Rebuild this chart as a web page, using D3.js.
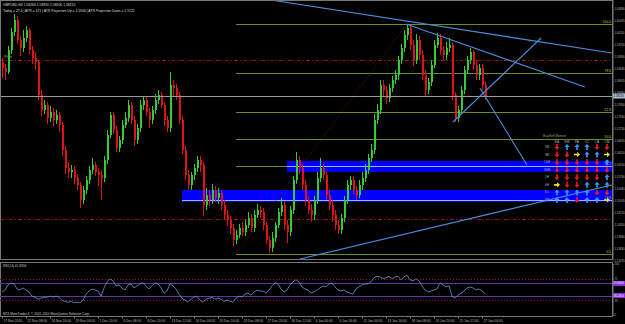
<!DOCTYPE html>
<html>
<head>
<meta charset="utf-8">
<script src="https://cdn.jsdelivr.net/npm/d3@7"></script>
<style>
  body { margin: 0; background: #000; }
  svg { display: block; }
  text { font-family: "Liberation Sans", Arial, sans-serif; }
</style>
</head>
<body>
<div id="chart"></div>
<script>
// GBPUSD H4 bars (open = previous close)
const firstOpen = 1.5923;
const closes = [
  1.5905,1.5893,1.5959,1.6013,1.6049,1.5989,1.5965,1.5995,1.6019,1.5959,
  1.5935,1.5923,1.5824,1.5779,1.5794,1.5755,1.5773,1.5749,1.5764,1.5734,
  1.5659,1.5605,1.5593,1.5599,1.5575,1.5554,1.5509,1.5539,1.5569,1.5599,
  1.5614,1.5593,1.5584,1.5575,1.5629,1.5704,1.5764,1.5719,1.5665,1.5689,
  1.5734,1.5755,1.5794,1.5749,1.5689,1.5725,1.5794,1.5809,1.5773,1.5749,
  1.5779,1.5809,1.5824,1.5794,1.5749,1.5725,1.5854,1.5845,1.5824,1.5749,
  1.5659,1.5584,1.5554,1.5584,1.5605,1.5629,1.5614,1.5494,1.5524,1.5509,
  1.5539,1.5515,1.5530,1.5494,1.5464,1.5449,1.5425,1.5389,1.5404,1.5425,
  1.5413,1.5434,1.5455,1.5425,1.5464,1.5479,1.5473,1.5434,1.5389,1.5365,
  1.5395,1.5434,1.5473,1.5494,1.5434,1.5413,1.5479,1.5569,1.5629,1.5605,
  1.5554,1.5509,1.5479,1.5464,1.5509,1.5575,1.5605,1.5584,1.5524,1.5494,
  1.5464,1.5434,1.5419,1.5455,1.5509,1.5554,1.5569,1.5539,1.5524,1.5554,
  1.5575,1.5599,1.5635,1.5659,1.5749,1.5779,1.5854,1.5839,1.5815,1.5845,
  1.5869,1.5884,1.5929,1.5965,1.6004,1.6025,1.5974,1.5929,1.5989,1.5944,
  1.5884,1.5839,1.5863,1.5914,1.5974,1.5995,1.5959,1.5944,1.5965,1.5974,
  1.5824,1.5755,1.5779,1.5839,1.5899,1.5929,1.5953,1.5914,1.5884,1.5905,
  1.5854,1.5821
];
const highs = [
  1.5935,1.5917,1.5971,1.6025,1.6067,1.6061,1.6001,1.6019,1.6031,1.6025,
  1.5971,1.5953,1.5929,1.5839,1.5809,1.5803,1.5791,1.5785,1.5779,1.5773,
  1.5743,1.5671,1.5623,1.5614,1.5611,1.5587,1.5563,1.5551,1.5581,1.5611,
  1.5635,1.5623,1.5605,1.5599,1.5641,1.5719,1.5773,1.5773,1.5731,1.5701,
  1.5749,1.5773,1.5809,1.5803,1.5761,1.5737,1.5809,1.5821,1.5821,1.5785,
  1.5791,1.5827,1.5839,1.5833,1.5803,1.5761,1.5893,1.5869,1.5857,1.5833,
  1.5761,1.5671,1.5599,1.5593,1.5617,1.5641,1.5641,1.5623,1.5545,1.5539,
  1.5557,1.5551,1.5545,1.5539,1.5509,1.5479,1.5461,1.5437,1.5419,1.5437,
  1.5443,1.5449,1.5473,1.5467,1.5479,1.5497,1.5491,1.5485,1.5443,1.5401,
  1.5413,1.5443,1.5485,1.5515,1.5503,1.5449,1.5491,1.5581,1.5653,1.5641,
  1.5617,1.5569,1.5521,1.5497,1.5521,1.5593,1.5635,1.5617,1.5593,1.5539,
  1.5509,1.5479,1.5449,1.5467,1.5521,1.5569,1.5581,1.5581,1.5551,1.5569,
  1.5593,1.5617,1.5647,1.5677,1.5767,1.5797,1.5869,1.5869,1.5851,1.5857,
  1.5881,1.5899,1.5941,1.5977,1.6019,1.6037,1.6031,1.5989,1.6007,1.6001,
  1.5959,1.5899,1.5875,1.5929,1.5989,1.6010,1.6007,1.5971,1.5983,1.5995,
  1.5983,1.5833,1.5791,1.5851,1.5911,1.5941,1.5965,1.5959,1.5929,1.5917,
  1.5917,1.5863
];
const lows = [
  1.5875,1.5869,1.5887,1.5947,1.6001,1.5977,1.5941,1.5953,1.5983,1.5947,
  1.5917,1.5899,1.5809,1.5761,1.5767,1.5737,1.5743,1.5731,1.5737,1.5713,
  1.5641,1.5587,1.5575,1.5575,1.5557,1.5539,1.5485,1.5497,1.5527,1.5557,
  1.5587,1.5581,1.5551,1.5509,1.5563,1.5617,1.5695,1.5707,1.5653,1.5653,
  1.5677,1.5725,1.5743,1.5737,1.5671,1.5677,1.5713,1.5779,1.5761,1.5725,
  1.5737,1.5767,1.5797,1.5785,1.5731,1.5713,1.5713,1.5821,1.5809,1.5737,
  1.5647,1.5569,1.5539,1.5539,1.5569,1.5593,1.5593,1.5461,1.5479,1.5491,
  1.5497,1.5503,1.5497,1.5479,1.5449,1.5431,1.5407,1.5371,1.5377,1.5395,
  1.5401,1.5401,1.5425,1.5413,1.5413,1.5455,1.5455,1.5419,1.5377,1.5350,
  1.5353,1.5383,1.5425,1.5461,1.5419,1.5380,1.5401,1.5467,1.5557,1.5587,
  1.5539,1.5491,1.5467,1.5443,1.5449,1.5497,1.5563,1.5569,1.5509,1.5479,
  1.5443,1.5419,1.5407,1.5407,1.5443,1.5497,1.5539,1.5527,1.5509,1.5515,
  1.5539,1.5563,1.5587,1.5623,1.5647,1.5737,1.5767,1.5821,1.5797,1.5803,
  1.5833,1.5857,1.5869,1.5917,1.5953,1.5989,1.5959,1.5911,1.5917,1.5929,
  1.5869,1.5821,1.5827,1.5851,1.5905,1.5965,1.5947,1.5929,1.5929,1.5953,
  1.5809,1.5743,1.5743,1.5767,1.5827,1.5887,1.5917,1.5899,1.5869,1.5869,
  1.5839,1.5809
];
// RSI(14) per bar
const rsi = [
  45,49,59,63,61,51,49,53,49,45, 37,35,31,33,35,35,37,35,37,35,
  29,27,25,27,24,25,24,29,41,47, 51,49,47,37,53,65,71,67,57,59,
  53,49,59,61,53,57,61,63,57,51, 57,63,61,53,43,47,61,57,51,41,
  33,29,25,31,35,37,29,25,31,33, 35,31,33,31,27,29,27,25,33,37,
  35,41,43,39,45,49,47,47,43,49, 57,63,61,51,45,49,59,65,69,65,
  55,51,49,43,45,49,53,57,55,61, 63,55,49,47,49,45,43,41,51,55,
  59,61,61,65,73,76,75,71,73,76, 71,75,76,69,75,78,69,67,71,67,
  57,49,45,47,49,51,63,59,55,57, 37,33,39,43,47,53,55,53,49,51,
  47,42
];

// axis labels
const timeTickBars = [0,8,16,24,32,40,48,56,64,72,80,88,96,104,112,120,128,136,144,152,160];
const timeLabels = ["17 Nov 2010","22 Nov 08:00","24 Nov 16:00","29 Nov 04:00","1 Dec 20:00",
  "6 Dec 08:00","8 Dec 20:00","13 Dec 12:00","16 Dec 04:00","20 Dec 16:00","23 Dec 08:00",
  "27 Dec 20:00","30 Dec 12:00","4 Jan 00:00","6 Jan 16:00","11 Jan 04:00","13 Jan 16:00",
  "18 Jan 08:00","20 Jan 20:00","25 Jan 12:00","27 Jan 04:00"];
const priceTicks = [1.5327,1.5363,1.5399,1.5435,1.5471,1.5507,1.5543,1.5579,1.5615,1.5651,1.5687,
  1.5723,1.5759,1.5795,1.5831,1.5867,1.5903,1.5939,1.5975,1.6011,1.6047,1.6083];
const rsiTicks = [0, 29, 71, 100];
const rsiLevels = [61.8, 38.2];

// fibonacci retracement (bar index, price)
const fibStart = [78, 1.5347];
const fibEnd = [135, 1.6037];
const fibLevels = [0, 23.6, 38.2, 50, 61.8, 78.6, 100];

// supply/demand zones: [start bar, top, bottom]
const zones = [[95, 1.5626, 1.5593], [60, 1.5539, 1.5503]];
const zoneLines = [1.5611, 1.5509];

// pivot lines (dash-dot)
const pivotLines = [1.5929, 1.5452];
const pivotLabels = ["#Pivot", ""];

// trend lines: [bar1, price1, bar2, price2]
const trendLines = [
  [89.7, 1.6109, 203.3, 1.5950],
  [134.7, 1.6037, 194.3, 1.5848],
  [150.3, 1.5743, 179.7, 1.5995],
  [159.3, 1.5845, 175.0, 1.5614],
  [99.3, 1.5332, 203.3, 1.5554]
];

// buy/sell monitor
const monitorCols = ["EA", "EM", "FA", "CC", "CA", "CM"];
const monitorRows = ["1M", "5M", "15M", "30M", "1H", "4H", "D1", "W1"];
const monitorSignals = ["DUUUDD", "DDRUUR", "DDDDDU", "DDDDDD", "DDDDDU", "RDDUUU", "UUUUDD", "UUDUUR"];

const W = 625, H = 324, plotRight = 612;
const mainBottom = 259, rsiTop = 262, rsiBottom = 316;
const bullColor = '#33cc33', bearColor = '#e01414';
const axisFont = '2.8px';

const svg = d3.select('#chart').append('svg')
  .attr('width', W).attr('height', H)
  .style('background', '#000');

const x = d3.scaleLinear().domain([0, closes.length - 1]).range([2, 485]);
const y = d3.scaleLinear().domain([1.5332, 1.6109]).range([mainBottom, 0]);
const yr = d3.scaleLinear().domain([0, 100]).range([315, 264]);

const bars = closes.map((c, i) => ({
  i, o: i === 0 ? firstOpen : closes[i - 1], c, h: highs[i], l: lows[i]
}));

const main = svg.append('g');

// pivot dash-dot lines
main.selectAll('line.pivot').data(pivotLines).join('line')
  .attr('x1', 0).attr('x2', plotRight)
  .attr('y1', d => Math.round(y(d)) + 0.5).attr('y2', d => Math.round(y(d)) + 0.5)
  .attr('stroke', '#a01010').attr('stroke-width', 1)
  .attr('stroke-dasharray', '4,2,1,2');
main.selectAll('text.pivot').data(pivotLabels).join('text')
  .attr('x', 3).attr('y', (d, i) => y(pivotLines[i]) - 2)
  .attr('fill', '#aaa').style('font-size', '3.2px').text(d => d);

// zones
main.selectAll('rect.zone').data(zones).join('rect')
  .attr('x', d => x(d[0])).attr('width', d => plotRight - x(d[0]))
  .attr('y', d => y(d[1])).attr('height', d => y(d[2]) - y(d[1]))
  .attr('fill', '#0000ff');

// fib levels
const fibPrice = lv => fibStart[1] + (fibEnd[1] - fibStart[1]) * lv / 100;
main.selectAll('line.fib').data(fibLevels).join('line')
  .attr('x1', x(fibStart[0])).attr('x2', plotRight)
  .attr('y1', d => Math.round(y(fibPrice(d))) + 0.5).attr('y2', d => Math.round(y(fibPrice(d))) + 0.5)
  .attr('stroke', '#6b8e23').attr('stroke-width', 1);
main.selectAll('line.zl').data(zones).join('line')
  .attr('x1', d => x(d[0])).attr('x2', plotRight)
  .attr('y1', (d, i) => Math.round(y(zoneLines[i])) + 0.5).attr('y2', (d, i) => Math.round(y(zoneLines[i])) + 0.5)
  .attr('stroke', '#9fb6ff').attr('stroke-width', 1);
main.selectAll('text.fib').data(fibLevels).join('text')
  .attr('x', plotRight - 1).attr('y', d => y(fibPrice(d)) - 1)
  .attr('text-anchor', 'end').attr('fill', '#b5d040').style('font-size', '3.3px')
  .text(d => d.toFixed(1));
main.append('line')
  .attr('x1', x(fibStart[0])).attr('y1', y(fibStart[1]))
  .attr('x2', x(fibEnd[0])).attr('y2', y(fibEnd[1]))
  .attr('stroke', '#a01010').attr('stroke-width', 0.8).attr('stroke-dasharray', '1,2');

// candles
const candle = main.selectAll('g.bar').data(bars).join('g');
candle.append('line')
  .attr('x1', d => Math.round(x(d.i)) + 0.5).attr('x2', d => Math.round(x(d.i)) + 0.5)
  .attr('y1', d => y(d.h)).attr('y2', d => y(d.l))
  .attr('stroke', d => d.c >= d.o ? bullColor : bearColor).attr('stroke-width', 1);
candle.append('rect')
  .attr('x', d => Math.round(x(d.i)))
  .attr('width', 2)
  .attr('y', d => y(Math.max(d.o, d.c)))
  .attr('height', d => Math.max(1, Math.abs(y(d.o) - y(d.c))))
  .attr('fill', d => d.c >= d.o ? bullColor : bearColor);

// bid line
const bid = closes[closes.length - 1];
main.append('line')
  .attr('x1', 0).attr('x2', plotRight)
  .attr('y1', Math.round(y(bid)) + 0.5).attr('y2', Math.round(y(bid)) + 0.5)
  .attr('stroke', '#9a9a9a').attr('stroke-width', 1);

// trend lines
main.selectAll('line.trend').data(trendLines).join('line')
  .attr('x1', d => x(d[0])).attr('y1', d => y(d[1]))
  .attr('x2', d => x(d[2])).attr('y2', d => y(d[3]))
  .attr('stroke', '#4a8ee0').attr('stroke-width', 1.1);

// monitor
const mon = main.append('g');
const colX = d3.scalePoint().domain(monitorCols).range([557, 607]);
const rowY = d3.scalePoint().domain(monitorRows).range([147, 200]);
mon.append('text').attr('x', 543).attr('y', 137).attr('fill', '#999')
  .style('font-size', '3.2px').text('Buy/Sell Monitor');
mon.selectAll('text.col').data(monitorCols).join('text')
  .attr('x', d => colX(d)).attr('y', 142.5).attr('text-anchor', 'middle')
  .attr('fill', '#bbb').style('font-size', '3.2px').text(d => d);
mon.selectAll('text.row').data(monitorRows).join('text')
  .attr('x', 547).attr('y', d => rowY(d) + 1).attr('text-anchor', 'middle')
  .attr('fill', '#bbb').style('font-size', '3px').text(d => d);
const arrowPath = 'M-0.8,-3 L0.8,-3 L0.8,0 L2.6,0 L0,3 L-2.6,0 L-0.8,0 Z';
const cells = [];
monitorSignals.forEach((s, r) => s.split('').forEach((c, k) => cells.push({ r: monitorRows[r], c: monitorCols[k], s: c })));
mon.selectAll('path.arrow').data(cells).join('path')
  .attr('d', arrowPath)
  .attr('transform', d => `translate(${colX(d.c)},${rowY(d.r)}) rotate(${d.s === 'D' ? 0 : d.s === 'U' ? 180 : -90})`)
  .attr('fill', d => d.s === 'D' ? '#ee1c1c' : d.s === 'U' ? '#3c96ff' : '#f0e020');

// top info text
main.append('text').attr('x', 3).attr('y', 5.5).attr('fill', '#ddd').style('font-size', '3.4px')
  .text('GBPUSD,H4  1.58260 1.58350 1.58200 1.58210');
main.append('text').attr('x', 3).attr('y', 11.5).attr('fill', '#ddd').style('font-size', '3.4px')
  .text('Today = 27.4   |   ATR = 121   |   ATR Projection Up = 1.5946   |   ATR Projection Down = 1.5722');

// frames
svg.append('rect').attr('x', 0.5).attr('y', 0.5).attr('width', plotRight).attr('height', mainBottom)
  .attr('fill', 'none').attr('stroke', '#777');
svg.append('rect').attr('x', 0.5).attr('y', rsiTop + 0.5).attr('width', plotRight).attr('height', rsiBottom - rsiTop)
  .attr('fill', 'none').attr('stroke', '#777');

// price axis
const pAxis = svg.append('g').attr('transform', `translate(${plotRight + 0.5},0)`)
  .call(d3.axisRight(y).tickValues(priceTicks).tickSize(1).tickPadding(1).tickFormat(d3.format('.5f')));
pAxis.select('.domain').attr('stroke', '#777');
pAxis.selectAll('line').attr('stroke', '#777');
pAxis.selectAll('text').attr('fill', '#bbb').style('font-size', axisFont);
svg.append('rect').attr('x', plotRight + 1).attr('y', y(bid) - 2.5).attr('width', 12).attr('height', 5)
  .attr('fill', '#a6bccf');
svg.append('text').attr('x', plotRight + 1.6).attr('y', y(bid) + 1).attr('fill', '#000')
  .style('font-size', axisFont).text(bid.toFixed(5));

// RSI panel
const rsiG = svg.append('g');
rsiG.selectAll('line.lvl').data([71, 29]).join('line')
  .attr('x1', 0).attr('x2', plotRight)
  .attr('y1', d => Math.round(yr(d)) + 0.5).attr('y2', d => Math.round(yr(d)) + 0.5)
  .attr('stroke', '#a01010').attr('stroke-dasharray', '1,2');
rsiG.selectAll('line.fl').data(rsiLevels).join('line')
  .attr('x1', 0).attr('x2', plotRight)
  .attr('y1', d => Math.round(yr(d)) + 0.5).attr('y2', d => Math.round(yr(d)) + 0.5)
  .attr('stroke', '#5a3aa8');
rsiG.append('path').datum(rsi)
  .attr('fill', 'none').attr('stroke', '#6f93d6').attr('stroke-width', 0.8)
  .attr('d', d3.line().x((d, i) => x(i)).y(d => yr(d)));
rsiG.append('text').attr('x', 3).attr('y', 266.5).attr('fill', '#ccc').style('font-size', '3.2px')
  .text('RSI(14) 41.8356');
rsiG.append('text').attr('x', 3).attr('y', 314.5).attr('fill', '#ccc').style('font-size', '3.2px')
  .text('MT4 MetaTrader 4, © 2001-2010 MetaQuotes Software Corp.');
const rAxis = svg.append('g').attr('transform', `translate(${plotRight + 0.5},0)`)
  .call(d3.axisRight(yr).tickValues(rsiTicks).tickSize(1).tickPadding(1));
rAxis.select('.domain').attr('stroke', '#777');
rAxis.selectAll('line').attr('stroke', '#777');
rAxis.selectAll('text').attr('fill', '#bbb').style('font-size', axisFont);
rsiG.selectAll('rect.lv').data(rsiLevels).join('rect')
  .attr('x', plotRight + 1).attr('y', d => yr(d) - 2.5).attr('width', 12).attr('height', 5)
  .attr('fill', '#8a2be2');
rsiG.selectAll('text.lv').data(rsiLevels).join('text')
  .attr('x', plotRight + 1.6).attr('y', d => yr(d) + 1).attr('fill', '#fff')
  .style('font-size', axisFont).text(d => d.toFixed(4));

// time axis
const tAxis = svg.append('g').attr('transform', `translate(0,${rsiBottom + 0.5})`)
  .call(d3.axisBottom(x).tickValues(timeTickBars).tickSize(2).tickPadding(1)
    .tickFormat((d, i) => timeLabels[i]));
tAxis.select('.domain').remove();
tAxis.selectAll('line').attr('stroke', '#777');
tAxis.selectAll('text').attr('fill', '#bbb').style('font-size', '3.3px')
  .attr('text-anchor', 'start').attr('dx', '0.3em');
</script>
</body>
</html>
